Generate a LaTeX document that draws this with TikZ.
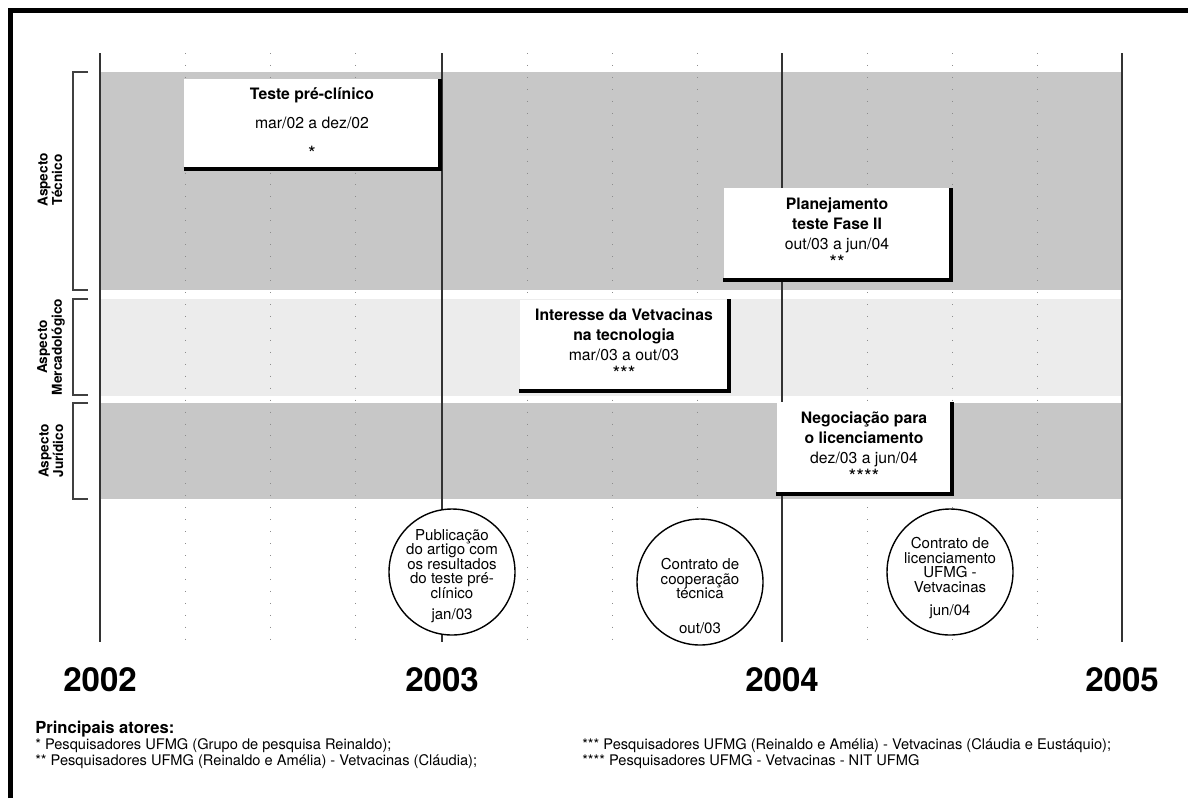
\documentclass[tikz,border=0pt]{standalone}
\usepackage{fontspec}
\setmainfont{TeX Gyre Heros}
\usetikzlibrary{positioning}
\newcommand{\pxl}{0.025cm}
\newcommand{\estrelas}[1]{{\fontsize{14}{14}\selectfont #1}}
\definecolor{faixaescura}{gray}{0.78}
\definecolor{faixaclara}{gray}{0.925}

\begin{document}
\begin{tikzpicture}[x=0.025cm, y=-0.025cm,
  ano/.style={font=\fontsize{23.5}{26}\bfseries},
  etapa/.style={fill=white, align=center, inner sep=0pt, font=\fontsize{11.2}{14.2}\selectfont},
  sombra/.style={line width=2.8pt},
  marco/.style={circle, draw, line width=1pt, fill=white, minimum size=126*\pxl, inner sep=0pt},
  marcotexto/.style={align=center, inner sep=0pt, font=\fontsize{10.7}{10.3}\selectfont},
  aspecto/.style={rotate=90, align=center, font=\fontsize{9.7}{9.4}\bfseries},
  chave/.style={line width=0.9pt, black!75},
  pontos/.style={black!45, line width=0.7pt, dash pattern=on 0.7pt off 7.8pt},
  rodape/.style={anchor=west, inner sep=0pt, font=\fontsize{10.4}{12}\selectfont}]
\useasboundingbox (0,0) rectangle (1188,798);
\draw[line width=3.5pt] (10.5,798) -- (10.5,10.5) -- (1188,10.5);

\fill[faixaescura] (100,72) rectangle (1122,290);
\fill[faixaclara] (100,299) rectangle (1122,396);
\fill[faixaescura] (100,403) rectangle (1122,499);

\foreach \x in {185,270,355,527,612,697,867,952,1037}
  \draw[pontos] (\x,53) -- (\x,642);
\foreach \x in {100,442,782,1122}
  \draw[line width=0.9pt, black!80] (\x,53) -- (\x,642);

\draw[chave] (88,72) -- (73,72) -- (73,290) -- (88,290);
\draw[chave] (88,299) -- (73,299) -- (73,395) -- (88,395);
\draw[chave] (88,403) -- (73,403) -- (73,499) -- (88,499);
\node[aspecto] (tecnico) at (50,180) {Aspecto\\Técnico};
\node[aspecto] (mercado) at (51,347) {Aspecto\\Mercadológico};
\node[aspecto] (juridico) at (51,451) {Aspecto\\Jurídico};

\node[etapa, minimum width=256*\pxl, minimum height=90*\pxl] (teste) at (312,124)
  {\textbf{Teste pré-clínico}\\[7pt]mar/02 a dez/02\\[8.5pt]\estrelas{*}};
\draw[sombra] (teste.south west) -- (teste.south east) -- (teste.north east);
\node[etapa, minimum width=227*\pxl, minimum height=92*\pxl] (fase) at (837,234)
  {\textbf{Planejamento}\\\textbf{teste Fase II}\\out/03 a jun/04\\\estrelas{**}};
\draw[sombra] (fase.south west) -- (fase.south east) -- (fase.north east);
\node[etapa, minimum width=209*\pxl, minimum height=91*\pxl] (interesse) at (624,345)
  {\textbf{Interesse da Vetvacinas}\\\textbf{na tecnologia}\\mar/03 a out/03\\\estrelas{***}};
\draw[sombra] (interesse.south west) -- (interesse.south east) -- (interesse.north east);
\node[etapa, minimum width=175*\pxl, minimum height=92*\pxl] (negociacao) at (864,448)
  {\textbf{Negociação para}\\\textbf{o licenciamento}\\dez/03 a jun/04\\\estrelas{****}};
\draw[sombra] (negociacao.south west) -- (negociacao.south east) -- (negociacao.north east);

\node[marco] (pub) at (452,572) {};
\node[marcotexto] (pubtexto) at (452,576)
  {Publicação\\do artigo com\\os resultados\\do teste pré-\\clínico\\[5pt]jan/03};
\node[marco] (coop) at (700,582) {};
\node[marcotexto] (cooptexto) at (700,596)
  {Contrato de\\cooperação\\técnica\\[14pt]out/03};
\node[marco] (lic) at (950,572) {};
\node[marcotexto] (lictexto) at (950,578)
  {Contrato de\\licenciamento\\UFMG -\\Vetvacinas\\[6pt]jun/04};

\node[ano] (a2002) at (100,680) {2002};
\node[ano] (a2003) at (442,680) {2003};
\node[ano] (a2004) at (782,680) {2004};
\node[ano] (a2005) at (1122,680) {2005};

\node[rodape, font=\fontsize{11.8}{13}\bfseries] (atores) at (35,729) {Principais atores:};
\node[rodape] (ator1) at (35,746) {* Pesquisadores UFMG (Grupo de pesquisa Reinaldo);};
\node[rodape, below=11.3pt of ator1.west, anchor=west] (ator2) {** Pesquisadores UFMG (Reinaldo e Amélia) - Vetvacinas (Cláudia);};
\node[rodape] (ator3) at (582,746) {*** Pesquisadores UFMG (Reinaldo e Amélia) - Vetvacinas (Cláudia e Eustáquio);};
\node[rodape, below=11.3pt of ator3.west, anchor=west] (ator4) {**** Pesquisadores UFMG - Vetvacinas - NIT UFMG};
\end{tikzpicture}
\end{document}
